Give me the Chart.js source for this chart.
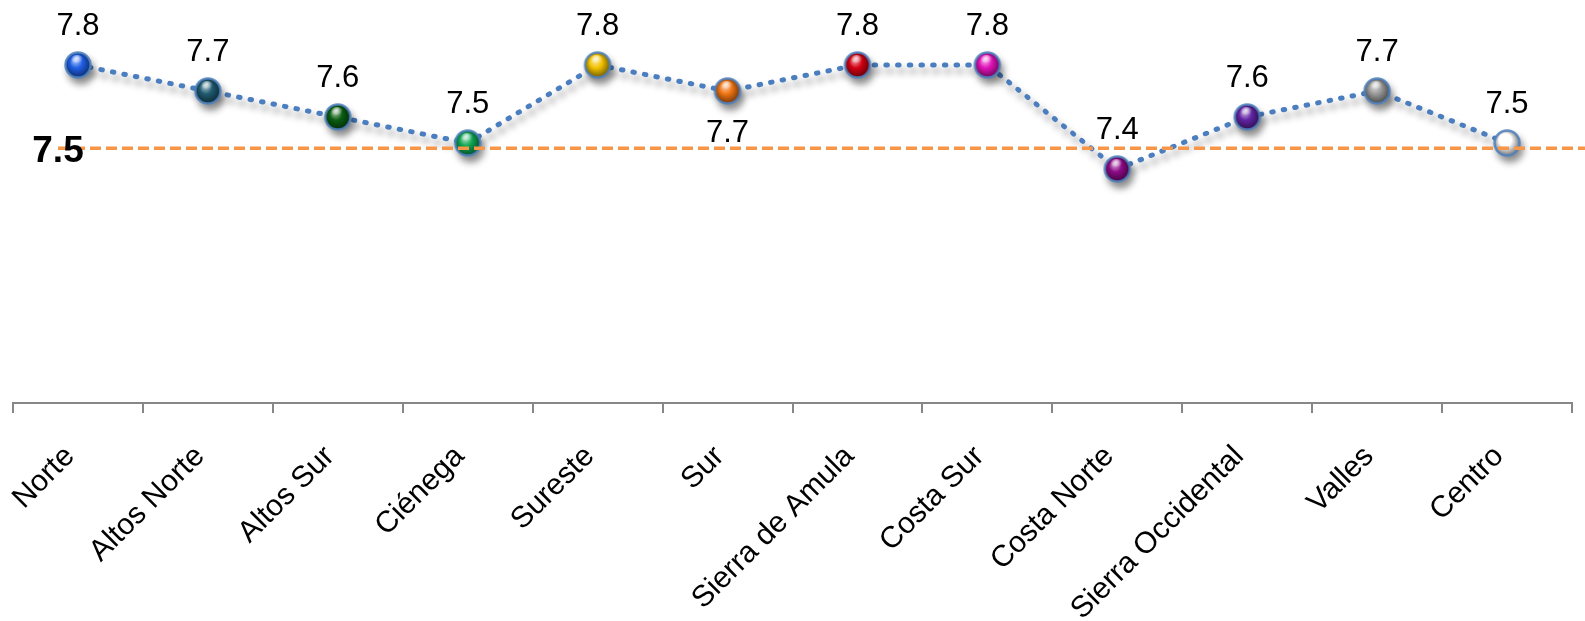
<!DOCTYPE html>
<html>
<head>
<meta charset="utf-8">
<script src="https://cdn.jsdelivr.net/npm/chart.js@4.4.1/dist/chart.umd.min.js"></script>
<style>
  html, body { margin: 0; padding: 0; background: #fff; }
  #wrap { width: 1585px; height: 621px; }
</style>
</head>
<body>
<div id="wrap"><canvas id="chartRegiones"></canvas></div>
<script>
const regiones = ['Norte', 'Altos Norte', 'Altos Sur', 'Ciénega', 'Sureste', 'Sur', 'Sierra de Amula', 'Costa Sur', 'Costa Norte', 'Sierra Occidental', 'Valles', 'Centro'];
const promedios = [7.8, 7.7, 7.6, 7.5, 7.8, 7.7, 7.8, 7.8, 7.4, 7.6, 7.7, 7.5];
const coloresPunto = ['#1f5fe6', '#1f5a70', '#0b5e12', '#0fa552', '#f2c200', '#f07412', '#d20012', '#e012b8', '#8c0a86', '#6224a4', '#9a9a9a', '#ffffff'];
const promedioEstatal = 7.48;
const etiquetaEstatal = '7.5';
const etiquetaAbajo = ['Sur'];

const fuente = "'Liberation Sans', Arial, sans-serif";

function mezcla(hex, otro, t) {
  const a = parseInt(hex.slice(1), 16), b = parseInt(otro.slice(1), 16);
  const ch = (v, s) => (v >> s) & 255;
  const m = s => Math.round(ch(a, s) * (1 - t) + ch(b, s) * t);
  return 'rgb(' + m(16) + ',' + m(8) + ',' + m(0) + ')';
}

// bolita con brillo para cada punto
function esfera(color) {
  const c = document.createElement('canvas');
  c.width = 32; c.height = 32;
  const g = c.getContext('2d');
  const grad = g.createRadialGradient(13, 11, 1, 16, 16, 14);
  grad.addColorStop(0, mezcla(color, '#ffffff', 0.6));
  grad.addColorStop(0.4, color);
  grad.addColorStop(1, mezcla(color, '#000000', 0.6));
  g.beginPath();
  g.arc(16, 16, 12.5, 0, Math.PI * 2);
  g.fillStyle = grad;
  g.fill();
  g.lineWidth = 2.5;
  g.strokeStyle = 'rgba(79,129,189,0.85)';
  g.stroke();
  const brillo = g.createRadialGradient(15, 9, 0, 15, 9, 6);
  brillo.addColorStop(0, 'rgba(255,255,255,0.8)');
  brillo.addColorStop(1, 'rgba(255,255,255,0)');
  g.beginPath();
  g.ellipse(15, 10, 6, 4, 0, 0, Math.PI * 2);
  g.fillStyle = brillo;
  g.fill();
  return c;
}

const sombra = {
  id: 'sombra',
  beforeDatasetDraw(chart) {
    const ctx = chart.ctx;
    ctx.save();
    ctx.shadowColor = 'rgba(0,0,0,0.45)';
    ctx.shadowBlur = 7;
    ctx.shadowOffsetX = 3;
    ctx.shadowOffsetY = 6;
  },
  afterDatasetDraw(chart) {
    chart.ctx.restore();
  }
};

const extras = {
  id: 'extras',
  afterDatasetsDraw(chart) {
    const ctx = chart.ctx;
    const y = chart.scales.y.getPixelForValue(promedioEstatal);
    const x0 = chart.chartArea.left + 45;
    ctx.save();
    // linea del promedio estatal
    ctx.strokeStyle = '#f79646';
    ctx.lineWidth = 3.5;
    ctx.setLineDash([11, 5]);
    ctx.beginPath();
    ctx.moveTo(x0, y);
    ctx.lineTo(chart.width, y);
    ctx.stroke();
    ctx.setLineDash([]);
    ctx.fillStyle = '#000';
    ctx.font = 'bold 37px ' + fuente;
    ctx.textAlign = 'center';
    ctx.textBaseline = 'alphabetic';
    ctx.fillText(etiquetaEstatal, x0, y + 13.5);
    // etiquetas de valor
    ctx.font = '31px ' + fuente;
    const meta = chart.getDatasetMeta(0);
    meta.data.forEach((p, i) => {
      const abajo = etiquetaAbajo.includes(regiones[i]);
      ctx.fillText(promedios[i].toFixed(1), p.x, abajo ? p.y + 51 : p.y - 30);
    });
    ctx.restore();
  }
};

new Chart(document.getElementById('chartRegiones'), {
  type: 'line',
  data: {
    labels: regiones,
    datasets: [{
      data: promedios,
      borderColor: '#4a7ebf',
      borderWidth: 5,
      borderDash: [1.5, 10.2],
      borderCapStyle: 'round',
      tension: 0,
      pointStyle: coloresPunto.map(esfera),
      pointRadius: 13,
      clip: false
    }]
  },
  options: {
    responsive: true,
    maintainAspectRatio: false,
    animation: false,
    layout: { autoPadding: false, padding: { top: 13, left: 13, right: 13, bottom: 0 } },
    plugins: {
      legend: { display: false },
      tooltip: { enabled: false },
      title: { display: false }
    },
    scales: {
      x: {
        offset: true,
        grid: {
          offset: true,
          drawOnChartArea: false,
          tickLength: 10,
          color: '#878787',
          lineWidth: 2
        },
        border: { color: '#878787', width: 2 },
        ticks: {
          autoSkip: false,
          maxRotation: 45,
          minRotation: 45,
          padding: 26,
          labelOffset: -8,
          color: '#000',
          font: { family: fuente, size: 30 }
        },
        afterFit(scale) {
          scale.height = 218;
          scale.paddingLeft = 0;
          scale.paddingRight = 0;
        }
      },
      y: {
        display: false,
        min: 6.5,
        max: 8.0
      }
    }
  },
  plugins: [sombra, extras]
});
</script>
</body>
</html>
